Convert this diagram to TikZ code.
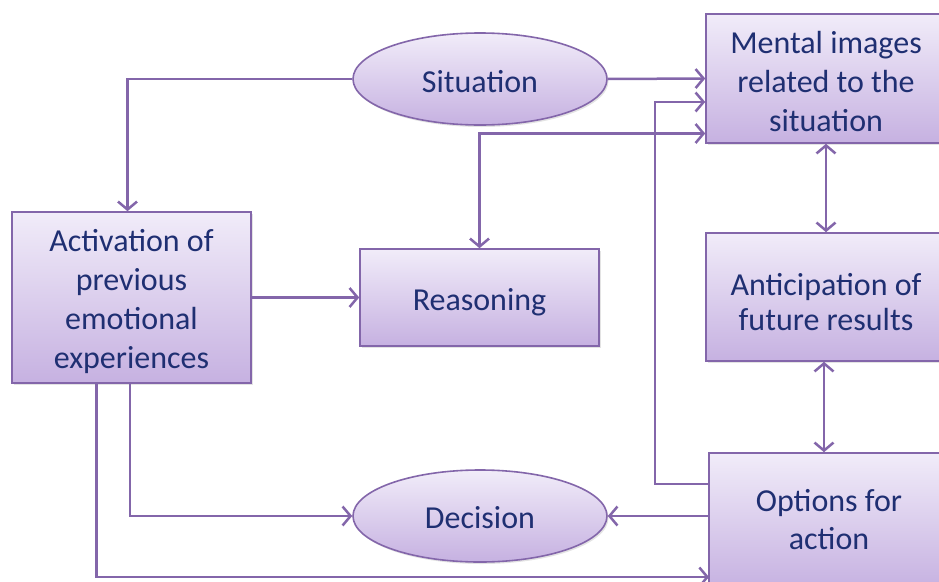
\documentclass[tikz,border=0pt]{standalone}
\usepackage{fontspec}
\setmainfont{Carlito}
\usetikzlibrary{arrows.meta,shapes.geometric,shadows}
\definecolor{linecol}{HTML}{8366AA}
\definecolor{boxtop}{HTML}{F1ECF9}
\definecolor{boxbot}{HTML}{C6B1E1}
\definecolor{txtcol}{HTML}{1F2F72}
\newcommand\tp[1]{\rule[-9pt]{0pt}{\dimexpr#1pt+9pt\relax}}
\newcommand\bt{\rule[-9pt]{0pt}{9pt}}
\tikzset{
  base/.style={draw=linecol, line width=1.6pt, top color=boxtop, bottom color=boxbot,
    text=txtcol, align=center, inner sep=2pt,
    font=\fontsize{32}{39}\selectfont,
    drop shadow={opacity=0.22, shadow xshift=1.5pt, shadow yshift=-2pt}},
  boxnode/.style={base, rectangle},
  ellnode/.style={base, ellipse, inner sep=0pt},
  arr/.style={draw=linecol, line width=2.5pt, -{Straight Barb[length=8pt,width=19pt]}},
  darr/.style={draw=linecol, line width=2.5pt, {Straight Barb[length=8pt,width=19pt]}-{Straight Barb[length=8pt,width=19pt]}}
}
\begin{document}
\begin{tikzpicture}[x=1pt,y=-1pt]
\useasboundingbox (0,0) rectangle (939,581);
\clip (0,0) rectangle (939,581);
\node[ellnode, minimum width=254pt, minimum height=92pt] (sit) at (480,79) {\tp{35}Situation\bt};
\node[boxnode, minimum width=240pt, minimum height=129pt, font=\fontsize{32}{39}\selectfont] (men) at (826,78.5) {\tp{36}Mental images\\related to the\\situation\bt};
\node[boxnode, minimum width=239pt, minimum height=171pt, font=\fontsize{32}{39}\selectfont] (act) at (131.5,297.5) {\tp{34.4}Activation of\\previous\\emotional\\experiences\bt};
\node[boxnode, minimum width=239pt, minimum height=97pt] (rea) at (479.5,297.5) {\tp{35.4}Reasoning\bt};
\node[boxnode, minimum width=240pt, minimum height=128pt, font=\fontsize{32}{35}\selectfont] (ant) at (826,297) {\tp{40}Anticipation of\\future results\bt};
\node[boxnode, minimum width=240pt, minimum height=136pt, font=\fontsize{32}{38}\selectfont] (opt) at (829,521) {\tp{28.4}Options for\\action\bt};
\node[ellnode, minimum width=254pt, minimum height=92pt] (dec) at (480,516) {\tp{33}Decision\bt};

\coordinate (k1) at (655,484);
\coordinate (k2) at (655,102);
\coordinate (k3) at (709,577);

\draw[arr] (sit.west) -| ([xshift=-4pt]act.north);
\draw[arr] (sit.east) -- (men.west);
\draw[darr] (rea.north) |- ([yshift=-55pt]men.west);
\draw[arr] (opt.west |- k1) -- (k1) -- (k2) -- (men.west |- k2);
\draw[darr] (men.south) -- (ant.north);
\draw[darr] ([xshift=-2pt]ant.south) -- ([xshift=-2pt]ant.south |- opt.north);
\draw[arr] (act.east) -- (rea.west);
\draw[arr] ([xshift=-1.5pt]act.south) |- (dec.west);
\draw[arr] (opt.west |- dec.east) -- (dec.east);
\draw[arr] ([xshift=-35pt]act.south) |- (k3);
\end{tikzpicture}
\end{document}
